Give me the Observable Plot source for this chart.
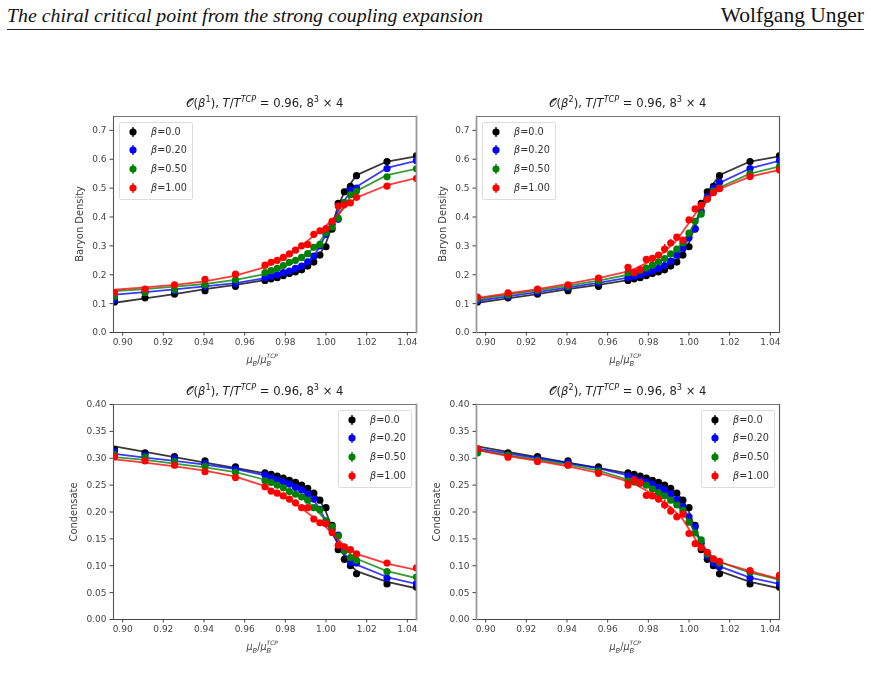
<!DOCTYPE html>
<html><head><meta charset="utf-8">
<script src="https://cdn.jsdelivr.net/npm/d3@7"></script>
<script src="https://cdn.jsdelivr.net/npm/@observablehq/plot@0.6"></script>
<style>
html,body{margin:0;padding:0;background:#fff;width:871px;height:679px;overflow:hidden;font-family:"DejaVu Sans",sans-serif}
#root{filter:blur(0.35px)}
.abs{position:absolute;white-space:nowrap}
.title{font-size:11.6px;color:#222;transform:translate(-50%,-50%);line-height:1}
.title i{font-style:italic}
.xlab{font-size:9.6px;color:#444;transform:translate(-50%,-50%);line-height:1}
sup,sub{font-size:70%;line-height:0}
.legend{position:absolute;border:1px solid #dcdcdc;border-radius:2px;background:rgba(255,255,255,.9);box-sizing:border-box}
.ltext{position:absolute;font-size:9.7px;color:#333;transform:translateY(-50%);line-height:1;white-space:nowrap}
.swatch{position:absolute}
</style></head><body>
<div class="abs" style="left:7px;top:4px;font:italic 19.85px 'Liberation Serif',serif;color:#111">The chiral critical point from the strong coupling expansion</div>
<div class="abs" style="right:7px;top:3px;font:21.5px 'Liberation Serif',serif;color:#111">Wolfgang Unger</div>
<div class="abs" style="left:7px;top:29px;width:857px;height:1px;background:#222"></div>
<div id="root"></div>
<script>
const mu = [0.896,0.911,0.9255,0.9405,0.9555,0.970,0.973,0.976,0.979,0.982,0.985,0.988,0.991,0.994,0.997,1.000,1.003,1.006,1.009,1.012,1.015,1.030,1.0445];
const xTicks = [0.90,0.92,0.94,0.96,0.98,1.00,1.02,1.04];
const densityTicks = [0,0.1,0.2,0.3,0.4,0.5,0.6,0.7];
const condensateTicks = [0,0.05,0.10,0.15,0.20,0.25,0.30,0.35,0.40];
const betaLabels = ["β=0.0","β=0.20","β=0.50","β=1.00"];
const betaColors = ["black","blue","green","red"];

// Baryon density, O(beta^1)
const d1Pts0 = [0.106,0.120,0.133,0.145,0.160,0.180,0.186,0.190,0.197,0.204,0.210,0.217,0.230,0.244,0.268,0.297,0.358,0.447,0.487,0.506,0.543,0.592,0.612];
const d1Fit0 = [0.103,0.118,0.133,0.150,0.165,0.181,0.187,0.192,0.198,0.205,0.212,0.220,0.232,0.248,0.270,0.310,0.370,0.440,0.485,0.515,0.545,0.592,0.610];
const d1Pts1 = [0.113,0.140,0.145,0.160,0.170,0.190,0.195,0.200,0.207,0.213,0.222,0.230,0.245,0.265,0.300,0.340,0.375,0.392,0.450,0.493,0.500,0.568,0.595];
const d1Fit1 = [0.131,0.140,0.149,0.160,0.171,0.188,0.194,0.200,0.207,0.214,0.222,0.232,0.245,0.266,0.298,0.340,0.383,0.420,0.458,0.485,0.505,0.570,0.595];
const d1Pts2 = [0.125,0.138,0.148,0.165,0.182,0.207,0.214,0.222,0.232,0.243,0.250,0.260,0.273,0.295,0.305,0.345,0.365,0.396,0.450,0.477,0.490,0.539,0.567];
const d1Fit2 = [0.143,0.150,0.159,0.168,0.182,0.202,0.210,0.218,0.227,0.236,0.247,0.260,0.275,0.293,0.315,0.345,0.375,0.405,0.440,0.470,0.490,0.545,0.567];
const d1Pts3 = [0.138,0.150,0.165,0.184,0.202,0.233,0.243,0.250,0.260,0.272,0.285,0.300,0.305,0.340,0.352,0.360,0.385,0.438,0.443,0.449,0.468,0.507,0.533];
const d1Fit3 = [0.148,0.156,0.165,0.177,0.197,0.226,0.237,0.248,0.260,0.272,0.285,0.300,0.318,0.335,0.350,0.370,0.390,0.410,0.432,0.450,0.467,0.510,0.535];

// Baryon density, O(beta^2)
const d2Pts0 = d1Pts0;
const d2Fit0 = d1Fit0;
const d2Pts1 = [0.110,0.125,0.140,0.155,0.172,0.190,0.195,0.200,0.207,0.213,0.222,0.232,0.247,0.268,0.292,0.328,0.360,0.420,0.470,0.500,0.520,0.568,0.595];
const d2Fit1 = [0.110,0.125,0.140,0.156,0.172,0.190,0.196,0.202,0.208,0.215,0.223,0.233,0.247,0.266,0.292,0.327,0.370,0.420,0.465,0.497,0.518,0.568,0.595];
const d2Pts2 = [0.117,0.130,0.146,0.160,0.178,0.207,0.207,0.215,0.223,0.233,0.245,0.256,0.272,0.289,0.310,0.344,0.385,0.410,0.463,0.490,0.500,0.550,0.575];
const d2Fit2 = [0.116,0.131,0.146,0.162,0.180,0.200,0.207,0.215,0.223,0.233,0.244,0.257,0.272,0.289,0.312,0.344,0.382,0.422,0.460,0.485,0.502,0.550,0.575];
const d2Pts3 = [0.123,0.137,0.150,0.165,0.188,0.226,0.208,0.218,0.253,0.257,0.268,0.289,0.310,0.330,0.320,0.390,0.428,0.440,0.462,0.484,0.498,0.540,0.563];
const d2Fit3 = [0.120,0.135,0.150,0.168,0.188,0.212,0.220,0.230,0.240,0.252,0.265,0.280,0.300,0.320,0.350,0.380,0.410,0.440,0.460,0.482,0.497,0.540,0.563];

// Condensate, O(beta^1)
const c1Pts0 = [0.316,0.310,0.303,0.295,0.284,0.273,0.270,0.267,0.263,0.259,0.255,0.250,0.244,0.235,0.222,0.208,0.175,0.130,0.112,0.100,0.085,0.066,0.060];
const c1Fit0 = [0.322,0.312,0.302,0.292,0.282,0.272,0.269,0.266,0.262,0.258,0.254,0.249,0.243,0.235,0.222,0.200,0.170,0.140,0.118,0.102,0.090,0.070,0.058];
const c1Pts1 = [0.312,0.306,0.300,0.290,0.280,0.269,0.264,0.260,0.256,0.252,0.246,0.241,0.234,0.224,0.205,0.183,0.168,0.157,0.128,0.106,0.105,0.077,0.067];
const c1Fit1 = [0.308,0.301,0.295,0.288,0.280,0.268,0.264,0.260,0.256,0.251,0.246,0.240,0.233,0.222,0.205,0.183,0.160,0.140,0.122,0.110,0.102,0.079,0.066];
const c1Pts2 = [0.307,0.302,0.294,0.285,0.274,0.258,0.255,0.250,0.245,0.238,0.233,0.228,0.222,0.208,0.204,0.183,0.173,0.155,0.128,0.115,0.110,0.089,0.079];
const c1Fit2 = [0.302,0.297,0.290,0.283,0.274,0.260,0.255,0.250,0.245,0.240,0.234,0.228,0.219,0.209,0.197,0.183,0.165,0.148,0.133,0.122,0.113,0.090,0.077];
const c1Pts3 = [0.303,0.295,0.287,0.275,0.264,0.247,0.239,0.235,0.230,0.224,0.217,0.208,0.208,0.187,0.180,0.178,0.162,0.138,0.135,0.130,0.122,0.105,0.096];
const c1Fit3 = [0.298,0.292,0.285,0.277,0.266,0.248,0.242,0.236,0.229,0.222,0.215,0.207,0.198,0.190,0.180,0.172,0.160,0.148,0.138,0.130,0.122,0.104,0.092];

// Condensate, O(beta^2)
const c2Pts0 = c1Pts0;
const c2Fit0 = c1Fit0;
const c2Pts1 = [0.315,0.306,0.299,0.292,0.278,0.267,0.263,0.259,0.256,0.252,0.246,0.241,0.234,0.223,0.210,0.191,0.172,0.142,0.118,0.105,0.098,0.077,0.067];
const c2Fit1 = [0.318,0.309,0.300,0.291,0.281,0.268,0.264,0.260,0.256,0.251,0.246,0.240,0.233,0.223,0.209,0.190,0.168,0.144,0.122,0.108,0.099,0.078,0.066];
const c2Pts2 = [0.310,0.306,0.296,0.288,0.276,0.258,0.256,0.253,0.250,0.243,0.236,0.230,0.222,0.213,0.203,0.181,0.161,0.148,0.122,0.112,0.105,0.088,0.076];
const c2Fit2 = [0.315,0.306,0.297,0.288,0.277,0.260,0.256,0.252,0.248,0.243,0.237,0.230,0.222,0.213,0.200,0.182,0.162,0.143,0.127,0.115,0.107,0.087,0.074];
const c2Pts3 = [0.318,0.302,0.294,0.287,0.272,0.250,0.260,0.255,0.231,0.230,0.224,0.213,0.202,0.191,0.196,0.160,0.141,0.134,0.125,0.113,0.108,0.091,0.082];
const c2Fit3 = [0.315,0.304,0.295,0.285,0.273,0.257,0.252,0.246,0.240,0.233,0.225,0.217,0.208,0.198,0.186,0.168,0.150,0.134,0.123,0.114,0.107,0.090,0.075];

// Error bars
const errSmall = [0.002,0.002,0.002,0.002,0.002,0.002,0.002,0.002,0.002,0.003,0.003,0.003,0.003,0.003,0.003,0.003,0.003,0.003,0.003,0.003,0.002,0.002,0.002];
const errRedD2 = [0.003,0.003,0.003,0.003,0.003,0.004,0.005,0.005,0.006,0.008,0.008,0.016,0.012,0.008,0.008,0.006,0.006,0.005,0.004,0.004,0.003,0.003,0.003];
const errRedC2 = [0.002,0.002,0.002,0.002,0.002,0.003,0.003,0.004,0.005,0.007,0.007,0.009,0.008,0.006,0.006,0.004,0.003,0.003,0.003,0.003,0.002,0.002,0.002];

const panels = [
  {left:113, top:116, height:216, yMax:0.748, yTicks:densityTicks, yFmt:".1f", yLabel:"Baryon Density", order:"1", labelX:80, soft:"right",
   pts:[d1Pts0,d1Pts1,d1Pts2,d1Pts3], fit:[d1Fit0,d1Fit1,d1Fit2,d1Fit3], err:[errSmall,errSmall,errSmall,errSmall],
   legend:{left:119,top:122}},
  {left:476, top:116, height:216, yMax:0.748, yTicks:densityTicks, yFmt:".1f", yLabel:"Baryon Density", order:"2", labelX:443, soft:"left",
   pts:[d2Pts0,d2Pts1,d2Pts2,d2Pts3], fit:[d2Fit0,d2Fit1,d2Fit2,d2Fit3], err:[errSmall,errSmall,errSmall,errRedD2],
   legend:{left:482,top:122}},
  {left:113, top:404, height:215, yMax:0.40, yTicks:condensateTicks, yFmt:".2f", yLabel:"Condensate", order:"1", labelX:73.5, soft:"right",
   pts:[c1Pts0,c1Pts1,c1Pts2,c1Pts3], fit:[c1Fit0,c1Fit1,c1Fit2,c1Fit3], err:[errSmall,errSmall,errSmall,errSmall],
   legend:{left:338,top:410}},
  {left:476, top:404, height:215, yMax:0.40, yTicks:condensateTicks, yFmt:".2f", yLabel:"Condensate", order:"2", labelX:436.5, soft:"left",
   pts:[c2Pts0,c2Pts1,c2Pts2,c2Pts3], fit:[c2Fit0,c2Fit1,c2Fit2,c2Fit3], err:[errSmall,errSmall,errSmall,errRedC2],
   legend:{left:701,top:410}}
];

const root = document.getElementById("root");
const W = 303, mL = 50, mR = 6, mT = 4, mB = 24;

function addDiv(cls, html, style){
  const d = document.createElement("div");
  d.className = cls; d.innerHTML = html; Object.assign(d.style, style);
  root.appendChild(d); return d;
}

for (const p of panels) {
  const marks = [];
  betaColors.forEach((color, s) => {
    const rows = mu.map((x,i)=>({x, y:p.pts[s][i], f:p.fit[s][i], e:p.err[s][i]}));
    marks.push(Plot.line(rows,{x:"x",y:"f",stroke:color,strokeWidth:1.8,strokeOpacity:0.78,clip:true}));
    marks.push(Plot.ruleX(rows,{x:"x",y1:d=>d.y-d.e,y2:d=>d.y+d.e,stroke:color,strokeWidth:1.3,clip:true}));
    marks.push(Plot.dot(rows,{x:"x",y:"y",r:3.6,fill:color,stroke:"none",clip:true}));
  });
  const hard = p.soft === "right" ? "left" : "right";
  marks.push(Plot.frame({anchor:"top",stroke:"#777",strokeWidth:1}));
  marks.push(Plot.frame({anchor:"bottom",stroke:"#444",strokeWidth:1.1}));
  marks.push(Plot.frame({anchor:hard,stroke:"#555",strokeWidth:1.1}));
  marks.push(Plot.frame({anchor:p.soft,stroke:"#999",strokeWidth:1.8}));
  marks.push(Plot.axisX({ticks:xTicks,tickFormat:".2f",tickSize:3.5,tickPadding:3,label:null,fontSize:9}));
  marks.push(Plot.axisY({ticks:p.yTicks,tickFormat:p.yFmt,tickSize:3.5,tickPadding:3.5,label:null,fontSize:9}));
  const chart = Plot.plot({
    width:W+mL+mR, height:p.height+mT+mB,
    marginLeft:mL, marginRight:mR, marginTop:mT, marginBottom:mB,
    x:{domain:[0.8955,1.0445]},
    y:{domain:[0,p.yMax]},
    style:{fontFamily:"'DejaVu Sans',sans-serif",color:"#444",background:"transparent",overflow:"visible"},
    marks
  });
  chart.style.position = "absolute";
  chart.style.left = (p.left-mL)+"px";
  chart.style.top = (p.top-mT)+"px";
  root.appendChild(chart);

  const cx = p.left + W/2;
  addDiv("abs title",
    `𝒪(<i>β</i><sup>${p.order}</sup>), <i>T</i>/<i>T</i><sup><i>TCP</i></sup> = 0.96, 8<sup>3</sup> × 4`,
    {left:cx+"px", top:(p.top-12.5)+"px"});
  addDiv("abs xlab",
    `<i>μ<sub>B</sub></i>/<i>μ</i><span style="display:inline-block;position:relative;width:16px;height:1px"><i style="position:absolute;left:0;top:-1px;font-size:70%">B</i><i style="position:absolute;left:0;top:-9px;font-size:62%">TCP</i></span>`,
    {left:cx+"px", top:(p.top+p.height+28)+"px"});
  addDiv("abs", p.yLabel, {
    left:p.labelX+"px", top:(p.top+p.height/2)+"px", fontSize:"9.9px", color:"#444", lineHeight:"1",
    transform:"translate(-50%,-50%) rotate(-90deg)"
  });

  // legend
  const leg = addDiv("legend","",{left:p.legend.left+"px",top:p.legend.top+"px",width:"74px",height:"78px"});
  betaColors.forEach((color,s)=>{
    const ry = 8.5 + s*18.9;
    const sw = document.createElementNS("http://www.w3.org/2000/svg","svg");
    sw.setAttribute("width","12"); sw.setAttribute("height","14");
    sw.setAttribute("class","swatch");
    sw.style.left = "7px"; sw.style.top = (ry-7)+"px";
    sw.innerHTML = `<line x1="6" x2="6" y1="2" y2="12" stroke="${color}" stroke-width="1.3"/><circle cx="6" cy="7" r="3.6" fill="${color}"/>`;
    leg.appendChild(sw);
    const t = document.createElement("div");
    t.className = "ltext";
    const [a,b] = betaLabels[s].split("=");
    t.innerHTML = `<i>${a}</i>=${b}`;
    t.style.left = "31px"; t.style.top = ry+"px";
    leg.appendChild(t);
  });
}
</script>
</body></html>
